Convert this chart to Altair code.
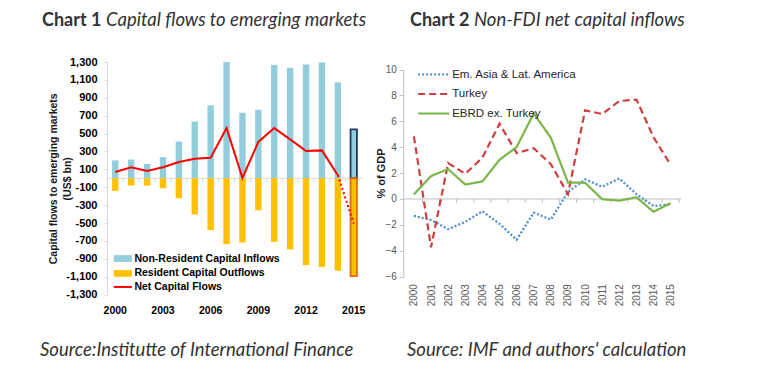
import altair as alt
import pandas as pd

# ---------------- data ----------------
years = ["2000", "2001", "2002", "2003", "2004", "2005", "2006", "2007",
         "2008", "2009", "2010", "2011", "2012", "2013", "2014", "2015"]
x_labels_1 = ["2000", "2003", "2006", "2009", "2012", "2015"]
y_ticks_1 = [-1300, -1100, -900, -700, -500, -300, -100, 100, 300, 500, 700, 900, 1100, 1300]

inflows = [200, 210, 160, 237, 410, 635, 815, 1300, 733, 766, 1268, 1235, 1272, 1295, 1073, 548]
outflows = [-141, -80, -82, -111, -223, -405, -580, -736, -717, -357, -710, -795, -970, -992, -1033, -1093]
net_flows = [70, 123, 81, 123, 182, 219, 230, 561, 5, 407, 561, 435, 304, 312, 35, -505]
series_bars = ["Non-Resident Capital Inflows", "Resident Capital Outflows"]
series_net = ["Net Capital Flows"]

em_asia = [-1.31, -1.63, -2.33, -1.77, -0.95, -1.92, -3.15, -1.05, -1.59, 0.55, 1.51, 0.95, 1.58, 0.38, -0.54, -0.42]
turkey = [4.84, -3.73, 2.77, 1.95, 3.19, 5.82, 3.55, 3.92, 2.68, 0.38, 6.85, 6.57, 7.57, 7.68, 4.77, 2.63]
ebrd = [0.35, 1.77, 2.31, 1.12, 1.35, 3.03, 4.01, 6.62, 4.73, 1.27, 1.25, -0.02, -0.13, 0.13, -0.99, -0.32]
series_2 = ["Em. Asia & Lat. America", "Turkey", "EBRD ex. Turkey"]
y_ticks_2 = [-6, -4, -2, 0, 2, 4, 6, 8, 10]

title1 = ["Chart 1", "Capital flows to emerging markets"]
title2 = ["Chart 2", "Non-FDI net capital inflows"]
source1 = ["Source:Institutte of International Finance"]
source2 = ["Source: IMF and authors' calculation"]

# ---------------- tables ----------------
bars_df = pd.DataFrame({
    "year": years + years,
    "value": inflows + outflows,
    "series": [series_bars[0]] * len(years) + [series_bars[1]] * len(years),
})
net_df = pd.DataFrame({"year": years, "value": net_flows, "series": series_net * len(years)})
zero_df = pd.DataFrame({"value": [0]})
year_df = pd.DataFrame({"year": years})

lines_df = pd.DataFrame({
    "year": years * 3,
    "value": em_asia + turkey + ebrd,
    "series": [series_2[0]] * 16 + [series_2[1]] * 16 + [series_2[2]] * 16,
})

LABEL_FONT = "Liberation Sans"
TXT = "#333333"

W1, H1 = 255, 232.6
SPACING = 41.3
W2, H2 = 278, 214.6
P2X = W1 + SPACING  # panel-2 origin relative to layout origin (for legends)
STEP1 = W1 / (16 - 0.6 + 2 * 0.32)
STEP2 = W2 / (15 + 2 * 0.62)

# ---------------- panel 1 ----------------
x1 = alt.X("year:N", scale=alt.Scale(domain=years, paddingInner=0.6, paddingOuter=0.32),
           axis=alt.Axis(values=x_labels_1, labelAngle=0, domain=False, ticks=False,
                         labelPadding=11, labelFont=LABEL_FONT, labelFontWeight="bold",
                         labelFontSize=10.5, labelColor="#000000", title=None))

scale_y1 = alt.Scale(domain=[-1300, 1300], nice=False, zero=False)
axis_y1 = alt.Axis(values=y_ticks_1, format=",.0f", grid=False, labelOverlap=False,
                   labelExpr="replace(datum.label, '\u2212', '-')",
                   domainColor="#D9D9D9", tickColor="#D9D9D9", tickSize=3,
                   labelPadding=7, labelFont=LABEL_FONT, labelFontWeight="bold",
                   labelFontSize=11, labelColor="#000000",
                   title=["Capital flows to emerging markets", "(US$ bn)"],
                   titleX=-49, titleY=H1 / 2, titleFont=LABEL_FONT,
                   titleFontSize=10.5, titleFontWeight="bold",
                   titleLineHeight=14, titleColor="#1a1a1a")

y1 = alt.Y("value:Q", scale=scale_y1, axis=axis_y1)
y1_zero = alt.Y(datum=0, type="quantitative", scale=scale_y1, axis=axis_y1)

zero1 = alt.Chart(zero_df).mark_rule(color="#D9D9D9", strokeWidth=1).encode(y=y1)
zticks1 = alt.Chart(year_df).mark_rule(color="#D9D9D9", strokeWidth=1,
                                       xOffset=-STEP1 / 2).encode(
    x=x1, y=y1_zero, y2=alt.datum(-40))

bars = alt.Chart(bars_df).mark_bar(strokeWidth=1.8).encode(
    x=x1,
    y=y1,
    y2=alt.datum(0),
    fill=alt.Fill("series:N", scale=alt.Scale(domain=series_bars, range=["#92CDDC", "#FFC000"]),
                  legend=alt.Legend(orient="none", legendX=10.6, legendY=191.3, title=None,
                                    symbolType="M-2.7,-1L2.7,-1L2.7,1L-2.7,1Z", symbolSize=45,
                                    symbolStrokeWidth=0, labelFont=LABEL_FONT,
                                    labelFontWeight="bold", labelFontSize=10.5,
                                    labelColor="#000000", labelOffset=6.3, rowPadding=3.9,
                                    padding=0)),
    stroke=alt.value("transparent", condition=[
        {"test": "datum.year == '2015' && datum.value > 0", "value": "#1F3864"},
        {"test": "datum.year == '2015' && datum.value < 0", "value": "#E46C0A"},
    ]),
)

net_legend = alt.Legend(orient="none", legendX=10.6, legendY=219.7, title=None,
                        symbolType="M-2.7,0L2.7,0", symbolSize=45, symbolStrokeWidth=2,
                        labelFont=LABEL_FONT, labelFontWeight="bold", labelFontSize=10.5,
                        labelColor="#000000", labelOffset=6.3, padding=0)
net_stroke = alt.Stroke("series:N", scale=alt.Scale(domain=series_net, range=["#FF0000"]),
                        legend=net_legend)

net_solid = alt.Chart(net_df).transform_filter("datum.year != '2015'").mark_line(
    strokeWidth=2).encode(x=x1, y=y1, stroke=net_stroke)
net_dot = alt.Chart(net_df).transform_filter(
    "datum.year == '2014' || datum.year == '2015'").mark_line(
    strokeWidth=2, strokeDash=[2, 2.5]).encode(x=x1, y=y1, stroke=net_stroke)


def text_layer(txt, x, y, weight="normal", style="normal", size=18.5):
    return alt.Chart(pd.DataFrame({"t": txt})).mark_text(
        align="left", baseline="alphabetic", font="Lato", fontSize=size,
        fontWeight=weight, fontStyle=style, color=TXT
    ).encode(text="t:N", x=alt.value(x), y=alt.value(y))


t1a = text_layer([title1[0]], -65, -36, weight="bold", size=18)
t1b = text_layer([title1[1]], -1, -36, style="italic")
s1 = text_layer(source1, -67, 294.3, style="italic")

panel1 = alt.layer(zero1, zticks1, bars, net_solid, net_dot, t1a, t1b, s1).properties(
    width=W1, height=H1)

# ---------------- panel 2 ----------------
x2 = alt.X("year:N", scale=alt.Scale(type="point", domain=years, padding=0.62),
           axis=alt.Axis(labelAngle=270, domain=False, ticks=False, labelPadding=7,
                         labelFont=LABEL_FONT, labelFontSize=10, labelColor="#595959",
                         title=None))

scale_y2 = alt.Scale(domain=[-6, 10], nice=False, zero=False, range=[H2, 7.6])
axis_y2 = alt.Axis(values=y_ticks_2, grid=False, labelOverlap=False, domainColor="#BFBFBF",
                   tickColor="#BFBFBF", tickSize=4, labelPadding=3,
                   labelFont=LABEL_FONT, labelFontSize=10, labelColor="#595959",
                   title="% of GDP", titleX=-17, titleY=111,
                   titleFont=LABEL_FONT, titleFontSize=11,
                   titleFontWeight="bold", titleColor="#1a1a1a")
y2 = alt.Y("value:Q", scale=scale_y2, axis=axis_y2)
y2_zero = alt.Y(datum=0, type="quantitative", scale=scale_y2, axis=axis_y2)

leg2 = alt.Legend(orient="none", legendX=P2X + 24.7, legendY=6.8, title=None,
                  symbolType="M-3.9,0L3.9,0", symbolSize=64, symbolStrokeWidth=2,
                  labelFont=LABEL_FONT, labelFontSize=11.5, labelColor="#262626",
                  labelOffset=12.7, rowPadding=6.5, padding=0)

zero2 = alt.Chart(zero_df).mark_rule(color="#BFBFBF", strokeWidth=1).encode(y=y2)
zticks2 = alt.Chart(year_df).mark_rule(color="#BFBFBF", strokeWidth=1,
                                       xOffset=STEP2 / 2).encode(
    x=x2, y=y2_zero, y2=alt.datum(-0.3))

lines2 = alt.Chart(lines_df).mark_line(strokeWidth=2.2).encode(
    x=x2,
    y=y2,
    color=alt.Color("series:N", scale=alt.Scale(domain=series_2,
                                                range=["#4A8AD6", "#CF3F3F", "#7AB648"]),
                    legend=leg2),
    strokeDash=alt.StrokeDash("series:N", scale=alt.Scale(domain=series_2,
                                                          range=[[2, 2], [7, 4], [1, 0]]),
                              legend=leg2),
)

t2a = text_layer([title2[0]], 6.7, -36, weight="bold", size=18)
t2b = text_layer([title2[1]], 70.7, -36, style="italic")
s2 = text_layer(source2, 3.7, 294.3, style="italic")

panel2 = alt.layer(zero2, zticks2, lines2, t2a, t2b, s2).properties(width=W2, height=H2)

chart = alt.hconcat(panel1, panel2, spacing=SPACING, bounds="flush").properties(
    padding={"left": 32, "top": 3, "right": 5, "bottom": 5}
).configure_view(stroke=None)

chart.save("out.html", embed_options={"renderer": "svg", "actions": False})
